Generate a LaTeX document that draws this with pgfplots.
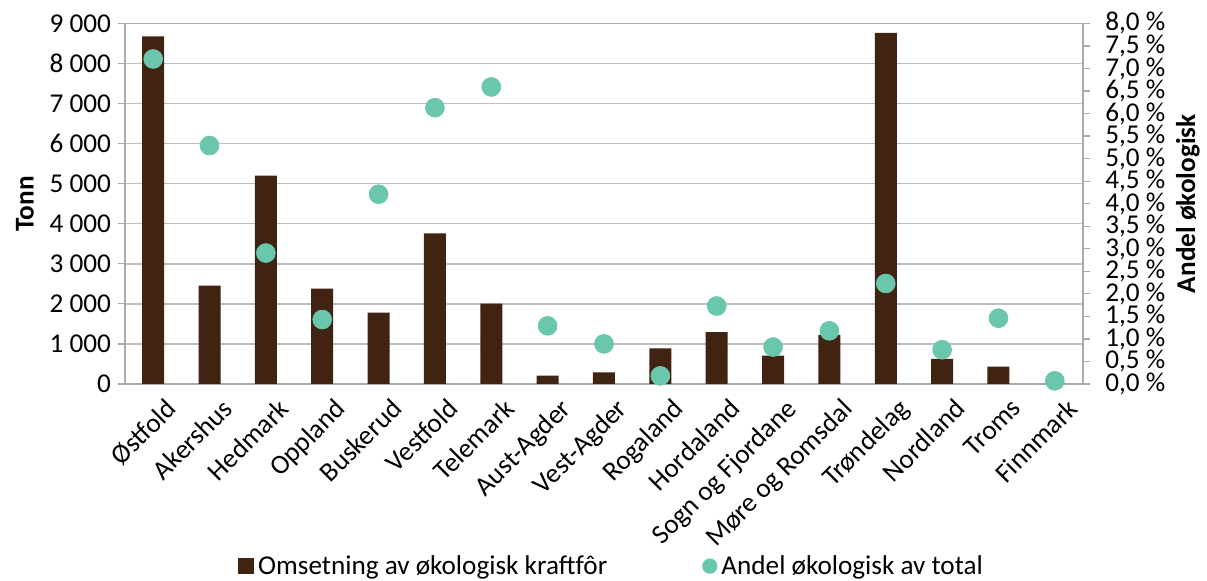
\documentclass[border=0pt]{standalone}
\usepackage{pgfplots}
\pgfplotsset{compat=1.18}
\usepackage{fontspec}
\setmainfont{Carlito}
\definecolor{brun}{RGB}{64,35,16}
\definecolor{turkis}{RGB}{106,198,172}
\definecolor{rutenett}{RGB}{190,190,190}
\definecolor{akse}{RGB}{170,170,170}
\newcommand{\fnt}{\fontsize{13.6}{16}\selectfont}

\begin{document}
\begin{tikzpicture}[font=\fnt]
\useasboundingbox (-62.5pt,-98.5pt) rectangle (541pt,192pt);
% tonn
\begin{axis}[
  width=479pt, height=180.3pt, scale only axis,
  xmin=-0.5, xmax=16.5,
  ymin=0, ymax=9000,
  ytick={0,1000,...,9000},
  ymajorgrids, grid style={rutenett, line width=0.75pt},
  axis line style={akse, line width=0.75pt},
  ytick pos=left, tick align=outside,
  major tick style={akse, line width=0.6pt},
  major tick length=3.5pt,
  /pgf/number format/assume math mode=true,
  /pgf/number format/1000 sep={\ },
  yticklabel style={font=\fnt},
  xtick={0,...,16},
  xticklabels={Østfold,Akershus,Hedmark,Oppland,Buskerud,Vestfold,Telemark,Aust-Agder,Vest-Agder,Rogaland,Hordaland,Sogn og Fjordane,Møre og Romsdal,Trøndelag,Nordland,Troms,Finnmark},
  xticklabel style={rotate=45, anchor=north east, inner sep=1pt, font=\fnt, yshift=-5pt, xshift=3pt},
  xtick style={draw=none},
  extra x ticks={-0.5,0.5,...,16.5},
  extra x tick labels={},
  extra x tick style={xtick style={akse, line width=0.6pt}, major tick length=3.5pt, grid=none},
  ylabel={\textbf{Tonn}},
  ylabel style={font=\fnt, at={(axis description cs:-0.1044,0.5)}, anchor=center},
]
\addplot[ybar, bar width=11pt, fill=brun, draw=none] coordinates {
(0,8675) (1,2453) (2,5198) (3,2379) (4,1780) (5,3759) (6,2004) (7,208) (8,291)
(9,890) (10,1297) (11,707) (12,1223) (13,8766) (14,624) (15,432) (16,0)
};
\end{axis}
% andel
\begin{axis}[
  width=479pt, height=180.3pt, scale only axis,
  xmin=-0.5, xmax=16.5,
  ymin=0, ymax=8,
  axis y line*=right, axis x line=none,
  axis line style={akse, line width=0.75pt},
  tick align=outside,
  major tick style={akse, line width=0.6pt},
  major tick length=3.5pt,
  ytick={0,0.5,...,8},
  /pgf/number format/assume math mode=true,
  yticklabel={\pgfmathprintnumber[fixed,fixed zerofill,precision=1,use comma]{\tick}~\%},
  yticklabel style={font=\fnt, inner sep=1.5pt, xshift=6pt},
  ylabel={\textbf{Andel økologisk}},
  ylabel style={font=\fnt, at={(axis description cs:1.1096,0.5)}, anchor=center},
  legend columns=2,
  legend style={at={(0.509,-0.505)}, anchor=center, draw=none, fill=none,
    font=\fnt,
    /tikz/every even column/.append style={column sep=45.5pt}},
]
\addlegendimage{legend image code/.code={\fill[brun] (0pt,-3.75pt) rectangle (7.5pt,3.75pt);}}
\addlegendentry{Omsetning av økologisk kraftfôr}
\addplot[only marks, mark=*, mark size=4.7pt, color=turkis,
  legend image code/.code={\fill[turkis] (3.6pt,0pt) circle (3.6pt);}] coordinates {
(0,7.21) (1,5.29) (2,2.905) (3,1.43) (4,4.21) (5,6.13) (6,6.59) (7,1.29) (8,0.89)
(9,0.18) (10,1.73) (11,0.82) (12,1.18) (13,2.23) (14,0.76) (15,1.46) (16,0.07)
};
\addlegendentry{Andel økologisk av total}
\end{axis}
\end{tikzpicture}
\end{document}
